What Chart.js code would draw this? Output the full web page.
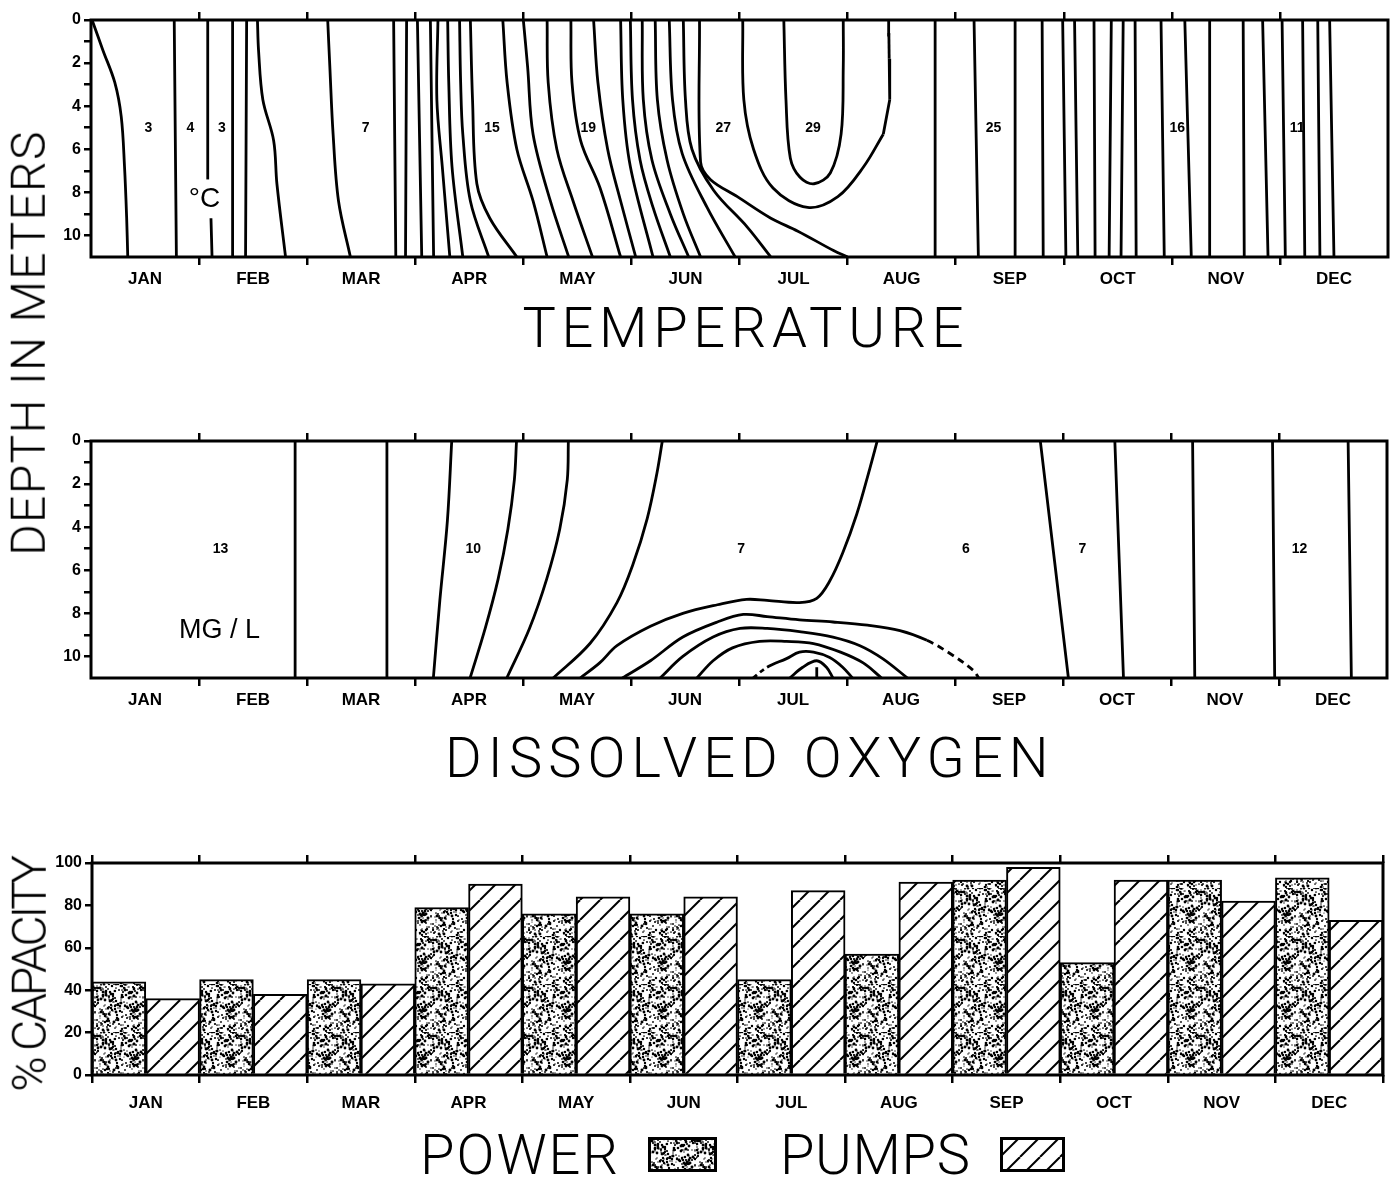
<!DOCTYPE html>
<html>
<head>
<meta charset="utf-8">
<script src="https://cdn.jsdelivr.net/npm/chart.js@4.4.0/dist/chart.umd.min.js"></script>
<style>
  body { margin:0; background:#fff; width:1397px; height:1179px; position:relative; overflow:hidden; }
  canvas { position:absolute; left:0; }
  .t { position:absolute; white-space:nowrap; color:#000; font-family:'Roboto','Liberation Sans',sans-serif; font-weight:300; line-height:1; }
</style>
</head>
<body>
<canvas id="temp" width="1397" height="300" style="top:0"></canvas>
<canvas id="oxy" width="1397" height="300" style="top:420px"></canvas>
<canvas id="bars" width="1397" height="270" style="top:840px"></canvas>
<canvas id="swPower" width="69" height="35" style="left:648px;top:1137px"></canvas>
<canvas id="swPumps" width="65" height="35" style="left:1000px;top:1137px"></canvas>
<script>
// ---- data ----
const months = ['JAN','FEB','MAR','APR','MAY','JUN','JUL','AUG','SEP','OCT','NOV','DEC'];
const depthTicks = [0,1,2,3,4,5,6,7,8,9,10];
const pctTicks = [0,10,20,30,40,50,60,70,80,90,100];

// isotherms, [month, depth m]
const tempWinter = [
  [[0.01,0],[0.11,1.4],[0.22,2.9],[0.28,4.5],[0.31,6.8],[0.33,9.2],[0.34,11]],
  [[0.77,0],[0.79,11]],
  [[1.08,0],[1.08,7.4]],
  [[1.11,9.2],[1.12,11]],
  [[1.31,0],[1.31,11]],
  [[1.44,0],[1.43,11]],
  [[1.54,0],[1.55,1.4],[1.59,3.7],[1.69,5.6],[1.72,7.6],[1.80,11]],
  [[2.19,0],[2.21,2.2],[2.24,5.3],[2.29,8.4],[2.40,11]],
  [[2.80,0],[2.82,11]],
  [[2.92,0],[2.91,11]],
  [[3.02,0],[3.06,11]],
  [[3.14,0],[3.17,11]]
];
const tempSpring = [
  [[3.21,0],[3.20,3.7],[3.25,6.8],[3.32,11]],
  [[3.30,0],[3.31,2.9],[3.34,6.8],[3.44,11]],
  [[3.41,0],[3.42,2.9],[3.44,5.3],[3.51,8.4],[3.68,11]],
  [[3.51,0],[3.53,3.7],[3.57,7.6],[3.69,9.2],[3.94,11]],
  [[3.81,0],[3.85,2.9],[3.94,6.0],[4.09,8.4],[4.22,11]],
  [[4.00,0],[4.04,2.2],[4.09,5.3],[4.25,8.4],[4.42,11]],
  [[4.22,0],[4.23,2.9],[4.31,6.0],[4.46,8.4],[4.64,11]],
  [[4.44,0],[4.45,2.9],[4.53,5.6],[4.71,7.8],[4.90,11]],
  [[4.65,0],[4.69,2.9],[4.78,6.0],[4.90,8.4],[5.04,11]],
  [[4.90,0],[4.92,3.7],[4.99,6.8],[5.20,11]],
  [[4.99,0],[5.01,3.7],[5.08,6.5],[5.20,8.7],[5.36,11]],
  [[5.10,0],[5.11,3.7],[5.19,6.5],[5.36,9.0],[5.53,11]],
  [[5.22,0],[5.24,3.7],[5.33,6.5],[5.48,9.0],[5.64,11]],
  [[5.35,0],[5.38,3.7],[5.47,6.2],[5.70,8.7],[5.96,11]],
  [[5.48,0],[5.50,3.7],[5.56,6.0],[5.76,7.9],[6.07,9.6],[6.29,11]],
  [[5.63,0],[5.64,6.6],[5.73,7.4],[5.98,8.2],[6.29,9.2],[6.54,9.8],[6.87,10.7],[7.00,11]]
];
// right-hand stem of the outer 29-degree loop, in short pieces
const tempStem = [
  [[7.382,0.7],[7.380,0.02]],
  [[7.385,1.8],[7.382,0.6]],
  [[7.385,1.8],[7.39,3.7]],
  [[7.39,3.7],[7.33,5.3]]
];
// 29-degree loops
const tempSummer = [
  [[7.33,5.3],[7.15,6.8],[6.91,8.2],[6.63,8.7],[6.31,7.8],[6.13,6.0],[6.04,3.7],[6.03,0]],
  [[6.96,0],[6.96,2.2],[6.94,5.3],[6.84,7.1],[6.69,7.6],[6.56,7.3],[6.47,6.4],[6.43,3.7],[6.41,0]]
];
// [month at surface, month at bottom]
const tempAutumn = [[7.81,7.81],[8.17,8.21],[8.55,8.55],[8.80,8.81],[8.99,9.02],[9.10,9.13],[9.28,9.29],
  [9.44,9.42],[9.55,9.53],[9.66,9.67],[9.90,9.93],[10.12,10.18],[10.35,10.35],[10.66,10.67],[10.84,10.89],
  [11.02,11.05],[11.21,11.23],[11.35,11.37],[11.46,11.50]];
const tempLabels = [[0.53,5,'3'],[0.92,5,'4'],[1.21,5,'3'],[2.54,5,'7'],[3.71,5,'15'],[4.60,5,'19'],
  [5.85,5,'27'],[6.68,5,'29'],[8.35,5,'25'],[10.05,5,'16'],[11.16,5,'11']];

// oxygen isopleths, [month, depth m]
const oxyWinter = [[1.89,1.89],[2.74,2.74]];
const oxySpring = [
  [[3.34,0],[3.30,3.7],[3.23,7.4],[3.17,11]],
  [[3.94,0],[3.92,1.8],[3.86,4.1],[3.77,6.4],[3.65,8.7],[3.51,11]],
  [[4.42,0],[4.41,1.8],[4.34,4.1],[4.22,6.4],[4.06,8.7],[3.85,11]],
  [[5.29,0],[5.24,1.5],[5.15,3.6],[5.02,5.7],[4.87,7.5],[4.62,9.4],[4.28,11]],
  [[7.28,0],[7.21,1.3],[7.09,3.4],[6.96,5.2],[6.84,6.5],[6.72,7.3],[6.56,7.5],[6.26,7.4],[6.07,7.35],
   [5.80,7.6],[5.48,8.0],[5.18,8.6],[4.87,9.5],[4.71,10.3],[4.53,11]]
];
const oxyDomes = [
  [[4.92,11],[5.18,10.2],[5.48,9.1],[5.80,8.4],[6.04,8.05],[6.26,8.15],[6.56,8.3],[6.87,8.4],[7.19,8.55],
   [7.49,8.8],[7.74,9.25],[7.95,9.85],[8.17,10.65],[8.22,11]],
  [[5.27,11],[5.48,10.0],[5.76,9.1],[6.01,8.7],[6.26,8.7],[6.56,8.85],[6.87,9.1],[7.12,9.5],[7.33,10.1],[7.56,11]],
  [[5.61,11],[5.76,10.2],[5.94,9.6],[6.19,9.3],[6.44,9.3],[6.69,9.4],[6.94,9.8],[7.15,10.3],[7.32,11]],
  [[6.13,11],[6.26,10.5],[6.44,10.1],[6.56,9.8],[6.69,9.8],[6.84,10.05],[6.96,10.5],[7.05,11]],
  [[6.47,11],[6.59,10.5],[6.72,10.2],[6.81,10.5],[6.87,11]],
  [[6.72,10.5],[6.72,11]]
];
const oxyAutumn = [[8.79,9.05],[9.48,9.56],[10.20,10.22],[10.94,10.96],[11.64,11.67]];
const oxyLabels = [[1.20,5,'13'],[3.54,5,'10'],[6.02,5,'7'],[8.10,5,'6'],[9.18,5,'7'],[11.19,5,'12']];

// % capacity
const powerPct = [44, 45, 45, 79, 76, 76, 45, 57, 92, 53, 92, 93];
const pumpsPct = [36, 38, 43, 90, 84, 84, 87, 91, 98, 92, 82, 73];

// ---- helpers ----
const tickFont = { family:"'Liberation Sans', Arial, sans-serif", size:17, weight:'bold' };
const halfTicks = months.flatMap((m,i) => [i, i+0.5]).concat([12]);
const bounds = months.map((m,i) => i).slice(1);

function line(poly, extra) {
  return Object.assign({
    data: poly.map(([x,y]) => ({x, y})),
    showLine:true, pointRadius:0, borderColor:'#000', borderWidth:2.8, tension:0.35, fill:false
  }, extra || {});
}
function straight(pairs) { return pairs.map(([a,b]) => line([[a,0],[b,11]])); }

const framePlugin = {
  id:'frame',
  afterDatasetsDraw(chart) {
    const a = chart.chartArea, c = chart.ctx;
    c.save(); c.lineWidth = 3; c.strokeStyle = '#000';
    c.strokeRect(a.left, a.top, a.right - a.left, a.bottom - a.top);
    c.restore();
  }
};
const annotPlugin = {
  id:'annot',
  afterDatasetsDraw(chart, args, opts) {
    const c = chart.ctx, x = chart.scales.x, y = chart.scales.y;
    c.save(); c.fillStyle = '#000'; c.textAlign = 'center'; c.textBaseline = 'middle';
    (opts.items || []).forEach(([m, d, txt, size, weight]) => {
      c.font = (weight || 'bold') + ' ' + (size || 14) + "px 'Liberation Sans', Arial, sans-serif";
      c.fillText(txt, x.getPixelForValue(m), y.getPixelForValue(d));
    });
    c.restore();
  }
};

function contourOptions(items, topH, botH, padRight) {
  return {
    responsive:false, animation:false, devicePixelRatio:1,
    layout:{ padding:{ left:0, right:padRight, top:0, bottom:0 } },
    plugins:{ legend:{display:false}, tooltip:{enabled:false}, annot:{ items } },
    scales:{
      x:{ type:'linear', position:'bottom', min:0, max:12,
        afterBuildTicks: s => { s.ticks = halfTicks.map(v => ({value:v})); },
        ticks:{ autoSkip:false, maxRotation:0, color:'#000', font:tickFont, padding:4,
          callback: v => Math.abs(v % 1 - 0.5) < 1e-6 ? months[Math.floor(v)] : '' },
        grid:{ drawOnChartArea:false, tickLength:8, lineWidth:2.5,
          tickColor: c => (c.tick && Number.isInteger(c.tick.value) && c.tick.value > 0 && c.tick.value < 12) ? '#000' : 'rgba(0,0,0,0)' },
        border:{display:false},
        afterFit: s => { s.height = botH; } },
      x2:{ type:'linear', position:'top', min:0, max:12,
        afterBuildTicks: s => { s.ticks = bounds.map(v => ({value:v})); },
        ticks:{ display:false },
        grid:{ drawOnChartArea:false, tickLength:8, lineWidth:2.5, color:'#000' },
        border:{display:false},
        afterFit: s => { s.height = topH; } },
      y:{ type:'linear', reverse:true, min:0, max:11,
        afterBuildTicks: s => { s.ticks = depthTicks.map(v => ({value:v})); },
        ticks:{ color:'#000', font:{ family:"'Liberation Sans', Arial, sans-serif", size:16, weight:'bold' }, padding:3,
          callback: v => v % 2 === 0 ? String(v) : '' },
        grid:{ drawOnChartArea:false, tickLength:7, lineWidth:2.5, color:'#000' },
        border:{display:false},
        afterFit: s => { s.width = 91; } }
    }
  };
}

// ---- temperature ----
new Chart(document.getElementById('temp'), {
  type:'scatter',
  data:{ datasets: [
    ...tempStem.map(p => line(p, { tension:0 })),
    ...tempWinter.map(p => line(p)),
    ...tempSpring.map(p => line(p)),
    ...tempSummer.map(p => line(p)),
    ...straight(tempAutumn)
  ]},
  options: contourOptions(tempLabels.concat([[1.05, 8.3, '°C', 28, 'normal']]), 20, 43, 9),
  plugins:[framePlugin, annotPlugin]
});

// ---- dissolved oxygen ----
const dashFrom = n => ({ segment:{ borderDash: c => c.p0DataIndex >= n ? [7,5] : undefined } });
const dashFirst = { segment:{ borderDash: c => c.p0DataIndex === 0 ? [5,4] : undefined } };
new Chart(document.getElementById('oxy'), {
  type:'scatter',
  data:{ datasets: [
    ...straight(oxyWinter),
    ...oxySpring.map(p => line(p)),
    ...oxyDomes.map((p,i) => line(p, i === 0 ? dashFrom(10) : i === 3 ? dashFirst : {})),
    ...straight(oxyAutumn)
  ]},
  options: contourOptions(oxyLabels.concat([[1.19, 8.8, 'MG / L', 27, 'normal']]), 21, 42, 10),
  plugins:[framePlugin, annotPlugin]
});

// ---- capacity bars ----
function stippleTile() {
  const c = document.createElement('canvas'); c.width = c.height = 48;
  const g = c.getContext('2d');
  g.fillStyle = '#fff'; g.fillRect(0,0,48,48); g.fillStyle = '#000';
  let s = 7;
  const nx = () => (s = (s * 16807) % 2147483647);
  for (let i = 0; i < 290; i++) {
    const x = nx() % 48, y = nx() % 48, r = 0.6 + (nx() % 100) / 110;
    g.beginPath(); g.arc(x, y, r, 0, 7); g.fill();
  }
  return c;
}
function hatchTile() {
  const c = document.createElement('canvas'); c.width = c.height = 20;
  const g = c.getContext('2d');
  g.fillStyle = '#fff'; g.fillRect(0,0,20,20);
  g.strokeStyle = '#000'; g.lineWidth = 2;
  [-20, 0, 20].forEach(k => { g.beginPath(); g.moveTo(k, 20); g.lineTo(k + 20, 0); g.stroke(); });
  return c;
}
const sTile = stippleTile(), hTile = hatchTile();
const barCtx = document.getElementById('bars').getContext('2d');

new Chart(barCtx, {
  type:'bar',
  data:{ labels: months, datasets: [
    { label:'POWER', data: powerPct, backgroundColor: barCtx.createPattern(sTile, 'repeat'), borderColor:'#000', borderWidth:2 },
    { label:'PUMPS', data: pumpsPct, backgroundColor: barCtx.createPattern(hTile, 'repeat'), borderColor:'#000', borderWidth:2 }
  ]},
  options:{
    responsive:false, animation:false, devicePixelRatio:1,
    categoryPercentage:1, barPercentage:1,
    layout:{ padding:{ left:0, right:14, top:0, bottom:0 } },
    plugins:{ legend:{display:false}, tooltip:{enabled:false} },
    scales:{
      x:{ position:'bottom',
        ticks:{ color:'#000', font:tickFont, padding:10, maxRotation:0 },
        grid:{ drawOnChartArea:false, tickLength:8, lineWidth:2.5, color:'#000' },
        border:{display:false},
        afterFit: s => { s.height = 35; } },
      x2:{ type:'category', position:'top', labels: months, offset:true,
        ticks:{ display:false },
        grid:{ drawOnChartArea:false, offset:true, tickLength:8, lineWidth:2.5, color:'#000' },
        border:{display:false},
        afterFit: s => { s.height = 23; } },
      y:{ min:0, max:100,
        afterBuildTicks: s => { s.ticks = pctTicks.map(v => ({value:v})); },
        ticks:{ color:'#000', font:{ family:"'Liberation Sans', Arial, sans-serif", size:16, weight:'bold' }, padding:3,
          callback: v => v % 20 === 0 ? String(v) : '' },
        grid:{ drawOnChartArea:false, tickLength:7, lineWidth:2.5, color:'#000' },
        border:{display:false},
        afterFit: s => { s.width = 92; } }
    }
  },
  plugins:[framePlugin]
});

// legend swatches
[['swPower', sTile], ['swPumps', hTile]].forEach(([id, tile]) => {
  const cv = document.getElementById(id), g = cv.getContext('2d');
  g.fillStyle = g.createPattern(tile, 'repeat'); g.fillRect(0, 0, cv.width, cv.height);
  g.lineWidth = 3; g.strokeStyle = '#000'; g.strokeRect(1.5, 1.5, cv.width - 3, cv.height - 3);
});

// titles
function addText(txt, cx, cy, w, size, rotate) {
  const el = document.createElement('div');
  el.className = 't'; el.textContent = txt; el.style.fontSize = size + 'px';
  document.body.appendChild(el);
  const w0 = el.offsetWidth;
  el.style.letterSpacing = ((w - w0) / txt.length) + 'px';
  el.style.left = (cx - el.offsetWidth / 2) + 'px';
  el.style.top = (cy - el.offsetHeight / 2) + 'px';
  if (rotate) el.style.transform = 'rotate(-90deg)';
}
addText('TEMPERATURE', 746, 328, 447, 56);
addText('DISSOLVED OXYGEN', 750, 758, 610, 56);
addText('POWER', 520, 1155, 200, 56);
addText('PUMPS', 875, 1155, 190, 56);
addText('DEPTH IN METERS', 28, 343, 425, 48, true);
addText('% CAPACITY', 30, 975, 234, 48, true);
</script>
</body>
</html>
